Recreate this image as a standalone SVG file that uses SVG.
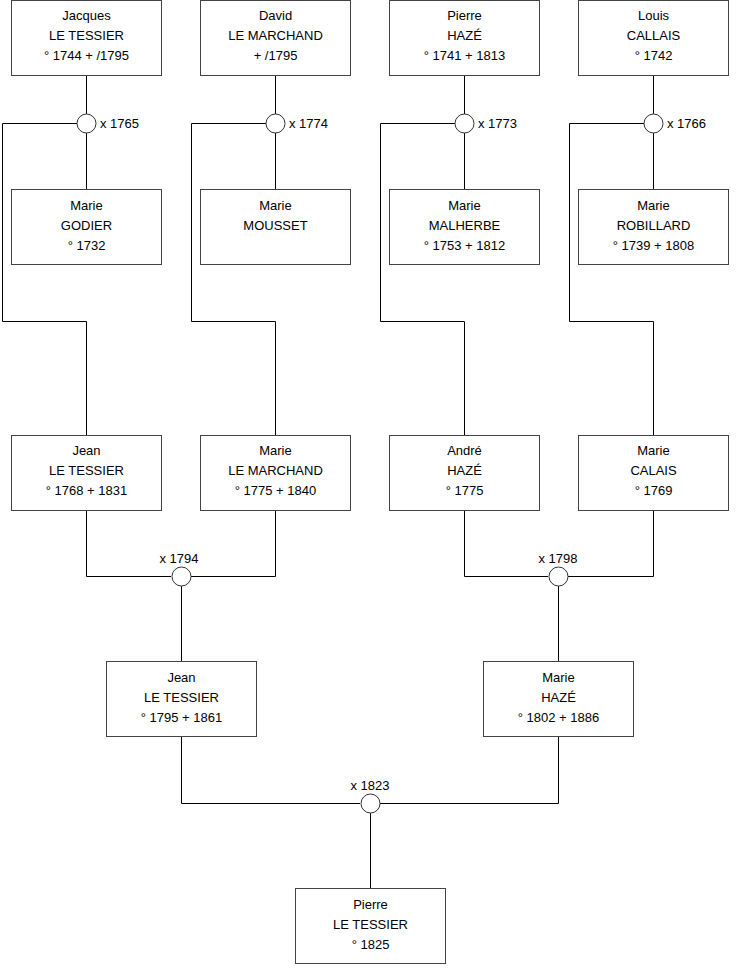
<svg xmlns="http://www.w3.org/2000/svg" width="740" height="975" viewBox="0 0 740 975">
<style>
.b{fill:#fff;stroke:#444;stroke-width:1}
.t{font-family:"Liberation Sans",Arial,sans-serif;font-size:13px;fill:#000;text-anchor:middle}
.l{font-family:"Liberation Sans",Arial,sans-serif;font-size:13px;fill:#000}
.c{fill:none;stroke:#000;stroke-width:1}
.m{fill:#fff;stroke:#333;stroke-width:1}
</style>
<rect width="740" height="975" fill="#fff"/>
<g id="connectors">
<path class="c" d="M86.5 76V114M86.5 132V189M77 123.5H2.5V321.5H86.5V435"/>
<path class="c" d="M275.5 76V114M275.5 132V189M266 123.5H191.5V321.5H275.5V435"/>
<path class="c" d="M464.5 76V114M464.5 132V189M455 123.5H380.5V321.5H464.5V435"/>
<path class="c" d="M653.5 76V114M653.5 132V189M644 123.5H569.5V321.5H653.5V435"/>
<path class="c" d="M86.5 511V576.5H171M191 576.5H275.5V511M181.5 586V662"/>
<path class="c" d="M464.5 511V576.5H548M568 576.5H653.5V511M558.5 586V662"/>
<path class="c" d="M181.5 737V803.5H360M380 803.5H558.5V737M370.5 813V888"/>
</g>
<g id="m1765"><circle class="m" cx="86.5" cy="123.5" r="9.5"/><text class="l" x="100" y="128">x 1765</text></g>
<g id="m1774"><circle class="m" cx="275.5" cy="123.5" r="9.5"/><text class="l" x="289" y="128">x 1774</text></g>
<g id="m1773"><circle class="m" cx="464.5" cy="123.5" r="9.5"/><text class="l" x="478" y="128">x 1773</text></g>
<g id="m1766"><circle class="m" cx="653.5" cy="123.5" r="9.5"/><text class="l" x="667" y="128">x 1766</text></g>
<g id="m1794"><circle class="m" cx="181.5" cy="576.5" r="9.5"/><text class="t" x="179" y="563">x 1794</text></g>
<g id="m1798"><circle class="m" cx="558.5" cy="576.5" r="9.5"/><text class="t" x="558" y="563">x 1798</text></g>
<g id="m1823"><circle class="m" cx="370.5" cy="803.5" r="9.5"/><text class="t" x="370" y="790">x 1823</text></g>

<g id="jacques"><rect class="b" x="11.5" y="0.5" width="150" height="75"/><text class="t" x="86.5" y="20">Jacques</text><text class="t" x="86.5" y="40">LE TESSIER</text><text class="t" x="86.5" y="60">° 1744 + /1795</text></g>
<g id="david"><rect class="b" x="200.5" y="0.5" width="150" height="75"/><text class="t" x="275.5" y="20">David</text><text class="t" x="275.5" y="40">LE MARCHAND</text><text class="t" x="275.5" y="60">+ /1795</text></g>
<g id="pierre1"><rect class="b" x="389.5" y="0.5" width="150" height="75"/><text class="t" x="464.5" y="20">Pierre</text><text class="t" x="464.5" y="40">HAZÉ</text><text class="t" x="464.5" y="60">° 1741 + 1813</text></g>
<g id="louis"><rect class="b" x="578.5" y="0.5" width="150" height="75"/><text class="t" x="653.5" y="20">Louis</text><text class="t" x="653.5" y="40">CALLAIS</text><text class="t" x="653.5" y="60">° 1742</text></g>

<g id="godier"><rect class="b" x="11.5" y="189.5" width="150" height="75"/><text class="t" x="86.5" y="210">Marie</text><text class="t" x="86.5" y="230">GODIER</text><text class="t" x="86.5" y="250">° 1732</text></g>
<g id="mousset"><rect class="b" x="200.5" y="189.5" width="150" height="75"/><text class="t" x="275.5" y="210">Marie</text><text class="t" x="275.5" y="230">MOUSSET</text></g>
<g id="malherbe"><rect class="b" x="389.5" y="189.5" width="150" height="75"/><text class="t" x="464.5" y="210">Marie</text><text class="t" x="464.5" y="230">MALHERBE</text><text class="t" x="464.5" y="250">° 1753 + 1812</text></g>
<g id="robillard"><rect class="b" x="578.5" y="189.5" width="150" height="75"/><text class="t" x="653.5" y="210">Marie</text><text class="t" x="653.5" y="230">ROBILLARD</text><text class="t" x="653.5" y="250">° 1739 + 1808</text></g>

<g id="jean1"><rect class="b" x="11.5" y="435.5" width="150" height="75"/><text class="t" x="86.5" y="455">Jean</text><text class="t" x="86.5" y="475">LE TESSIER</text><text class="t" x="86.5" y="495">° 1768 + 1831</text></g>
<g id="mariele"><rect class="b" x="200.5" y="435.5" width="150" height="75"/><text class="t" x="275.5" y="455">Marie</text><text class="t" x="275.5" y="475">LE MARCHAND</text><text class="t" x="275.5" y="495">° 1775 + 1840</text></g>
<g id="andre"><rect class="b" x="389.5" y="435.5" width="150" height="75"/><text class="t" x="464.5" y="455">André</text><text class="t" x="464.5" y="475">HAZÉ</text><text class="t" x="464.5" y="495">° 1775</text></g>
<g id="calais"><rect class="b" x="578.5" y="435.5" width="150" height="75"/><text class="t" x="653.5" y="455">Marie</text><text class="t" x="653.5" y="475">CALAIS</text><text class="t" x="653.5" y="495">° 1769</text></g>

<g id="jean2"><rect class="b" x="106.5" y="661.5" width="150" height="75"/><text class="t" x="181.5" y="682">Jean</text><text class="t" x="181.5" y="702">LE TESSIER</text><text class="t" x="181.5" y="722">° 1795 + 1861</text></g>
<g id="mariehaze"><rect class="b" x="483.5" y="661.5" width="150" height="75"/><text class="t" x="558.5" y="682">Marie</text><text class="t" x="558.5" y="702">HAZÉ</text><text class="t" x="558.5" y="722">° 1802 + 1886</text></g>

<g id="pierre2"><rect class="b" x="295.5" y="888.5" width="150" height="75"/><text class="t" x="370.5" y="909">Pierre</text><text class="t" x="370.5" y="929">LE TESSIER</text><text class="t" x="370.5" y="949">° 1825</text></g>
</svg>
